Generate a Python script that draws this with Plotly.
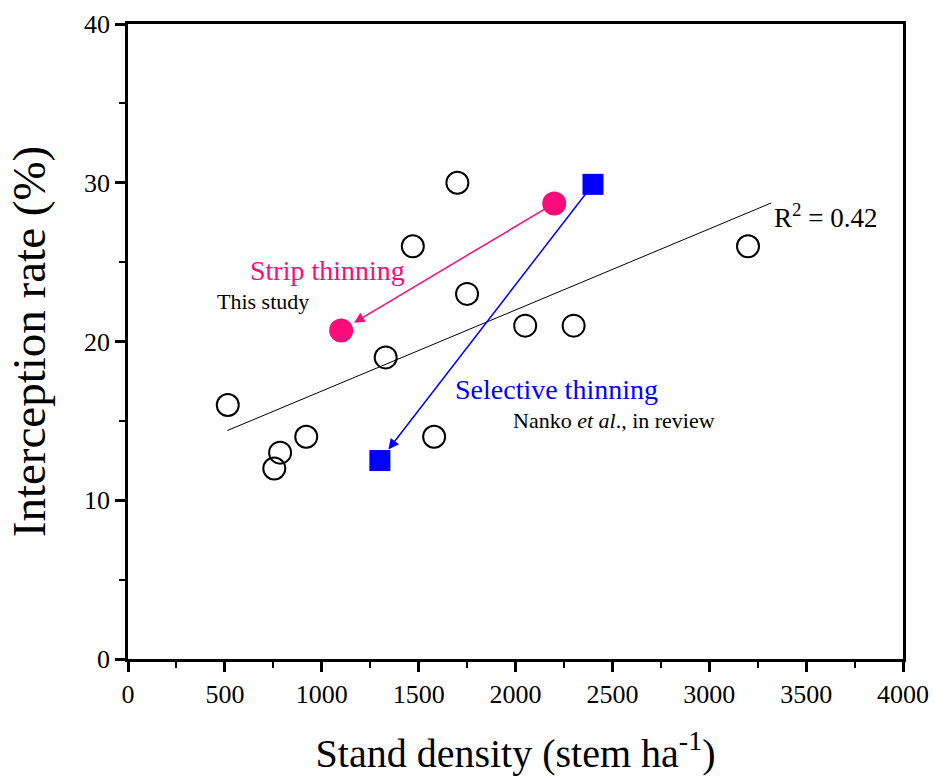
import numpy as np
import plotly.graph_objects as go

# Stand density (stem/ha) and interception rate (%) for the surveyed stands
density = [515, 755, 785, 920, 1330, 1470, 1700, 1750, 1580, 2050, 2300, 3200]
interception = [16, 12, 13, 14, 19, 26, 30, 23, 14, 21, 21, 26]

# Strip thinning (this study): before -> after
strip_density = [2200, 1100]
strip_rate = [28.7, 20.7]

# Selective thinning (Nanko et al., in review): before -> after
sel_density = [2400, 1300]
sel_rate = [29.9, 12.5]

# x-range over which the regression line is drawn
fit_range = [513, 3320]
r2_label = "0.42"

x_ticks = [0, 500, 1000, 1500, 2000, 2500, 3000, 3500, 4000]
y_ticks = [0, 10, 20, 30, 40]

FONT = "Liberation Serif, Times New Roman, serif"
PINK = "#ff0a7a"
BLUE = "#0000ff"

slope, intercept = np.polyfit(density, interception, 1)
fit_x = np.array(fit_range, dtype=float)
fit_y = slope * fit_x + intercept

fig = go.Figure()

fig.add_trace(go.Scatter(
    x=fit_x, y=fit_y, mode="lines",
    line=dict(color="black", width=1), hoverinfo="skip", showlegend=False))

fig.add_trace(go.Scatter(
    x=density, y=interception, mode="markers",
    marker=dict(symbol="circle-open", size=22, color="black", line=dict(width=2)),
    showlegend=False))

fig.add_trace(go.Scatter(
    x=strip_density, y=strip_rate, mode="markers",
    marker=dict(symbol="circle", size=24, color=PINK),
    showlegend=False))

fig.add_trace(go.Scatter(
    x=sel_density, y=sel_rate, mode="markers",
    marker=dict(symbol="square", size=21, color=BLUE),
    showlegend=False))

annotations = [
    # thinning arrows
    dict(x=strip_density[1], y=strip_rate[1], ax=strip_density[0], ay=strip_rate[0],
         xref="x", yref="y", axref="x", ayref="y", text="", showarrow=True,
         arrowhead=2, arrowsize=1.4, arrowwidth=1.5, arrowcolor=PINK,
         standoff=15, startstandoff=8),
    dict(x=sel_density[1], y=sel_rate[1], ax=sel_density[0], ay=sel_rate[0],
         xref="x", yref="y", axref="x", ayref="y", text="", showarrow=True,
         arrowhead=2, arrowsize=1.4, arrowwidth=1.5, arrowcolor=BLUE,
         standoff=14, startstandoff=8),
    # labels
    dict(x=1028, y=24.5, xref="x", yref="y", text="Strip thinning", showarrow=False,
         font=dict(family=FONT, size=28, color=PINK)),
    dict(x=698, y=22.5, xref="x", yref="y", text="This study", showarrow=False,
         font=dict(family=FONT, size=22, color="black")),
    dict(x=2214, y=17.0, xref="x", yref="y", text="Selective thinning", showarrow=False,
         font=dict(family=FONT, size=28, color=BLUE)),
    dict(x=2508, y=15.0, xref="x", yref="y", text="Nanko <i>et al</i>., in review",
         showarrow=False, font=dict(family=FONT, size=22, color="black")),
    dict(x=3322, y=27.9, xref="x", yref="y", xanchor="left",
         text="R<sup>2</sup> = " + r2_label, showarrow=False,
         font=dict(family=FONT, size=27, color="black")),
]

axis_common = dict(
    showline=True, linecolor="black", linewidth=2.5, mirror=True,
    ticks="outside", ticklen=10, tickwidth=2.5, tickcolor="black",
    showgrid=False, zeroline=False, automargin=False,
    tickfont=dict(family=FONT, size=26, color="black"),
)

fig.update_layout(
    width=934, height=776,
    margin=dict(l=128, r=31, t=24, b=117),
    plot_bgcolor="white", paper_bgcolor="white",
    annotations=annotations,
    xaxis=dict(range=[0, 4000], tickvals=x_ticks,
               minor=dict(dtick=250, tick0=0, ticks="outside", ticklen=6,
                          tickwidth=2, tickcolor="black"),
               title=dict(text="Stand density (stem ha<sup>-1</sup>)",
                          font=dict(family=FONT, size=40, color="black"), standoff=32),
               **axis_common),
    yaxis=dict(range=[0, 40], tickvals=y_ticks,
               minor=dict(dtick=5, tick0=0, ticks="outside", ticklen=6,
                          tickwidth=2, tickcolor="black"),
               title=dict(text="Interception rate (%)",
                          font=dict(family=FONT, size=47, color="black"), standoff=24),
               **axis_common),
)

fig.write_html("out.html")
